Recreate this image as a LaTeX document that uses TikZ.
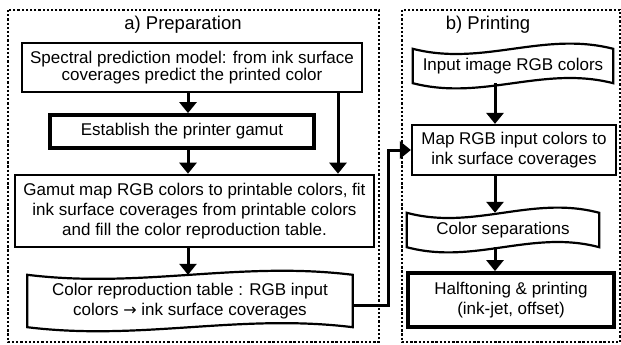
\documentclass[tikz,border=0pt]{standalone}
\usepackage{fontspec}
\setmainfont{Liberation Sans}
\newfontfamily\arrowfont{DejaVu Sans}
\usetikzlibrary{arrows.meta,calc}

% Wavy "document" outline drawn around a named node; #2 sets the wave depth
\newcommand\wavedoc[2]{%
  \draw[docline]
    (#1.north west)
      .. controls ($(#1.north west)!0.35!(#1.north east)+(0,#2)$)
              and ($(#1.north west)!0.65!(#1.north east)-(0,#2)$) .. (#1.north east)
    -- (#1.south east)
      .. controls ($(#1.south west)!0.65!(#1.south east)-(0,#2)$)
              and ($(#1.south west)!0.35!(#1.south east)+(0,#2)$) .. (#1.south west)
    -- cycle;}

\begin{document}
\begin{tikzpicture}[x=1pt,y=-1pt,
  txt/.style={font=\fontsize{17}{20}\selectfont},
  title/.style={font=\fontsize{18.5}{20}\selectfont},
  frame/.style={line width=2.3pt,dash pattern=on 2.3pt off 1.9pt},
  stepbox/.style={txt,draw,line width=2.6pt,align=center,inner sep=0pt},
  heavybox/.style={stepbox,line width=3.8pt},
  docnode/.style={txt,align=center,inner sep=0pt},
  docline/.style={line width=2.2pt,line join=miter},
  flow/.style={line width=3pt,-{Triangle[width=17pt,length=11pt]}},
]
\useasboundingbox (0,0) rectangle (621,345);

% panel frames
\draw[frame] (8,10) rectangle (379,342);
\draw[frame] (402,10) rectangle (620,342);

\node[title] (ta) at (183,25) {a) Preparation};
\node[title] (tb) at (488,25) {b) Printing};

% a) preparation
\node[stepbox,minimum width=340pt,minimum height=49pt,
      font=\fontsize{17}{17}\selectfont] (spm) at (192,67.5)
  {Spectral prediction model: from ink surface\\coverages predict the printed color};
\node[heavybox,minimum width=264pt,minimum height=33pt] (gamut) at (182,131.5)
  {Establish the printer gamut};
\node[stepbox,minimum width=359pt,minimum height=72pt] (fit) at (194.5,211)
  {Gamut map RGB colors to printable colors, fit\\ink surface coverages from printable colors\\and fill the color reproduction table.};
\node[docnode,minimum width=325pt,minimum height=52pt] (crt) at (190,301)
  {Color reproduction table : RGB input\\colors {\arrowfont\fontsize{16}{20}\selectfont →} ink surface coverages};
\wavedoc{crt}{14}

% b) printing
\node[docnode,minimum width=200pt,minimum height=34pt] (inp) at (513,66)
  {Input image RGB colors};
\wavedoc{inp}{18}
\node[stepbox,line width=2.2pt,minimum width=204pt,minimum height=50pt] (map) at (514,150)
  {Map RGB input colors to\\ink surface coverages};
\node[docnode,minimum width=192pt,minimum height=34pt] (sep) at (503,230)
  {Color separations};
\wavedoc{sep}{18}
\node[heavybox,minimum width=206pt,minimum height=54pt] (half) at (511,300)
  {Halftoning \& printing\\(ink-jet, offset)};

% connector columns
\coordinate (ax) at (188,0);
\coordinate (bx) at (338,0);
\coordinate (cx) at (495,0);
\coordinate (jx) at (388,0);

\draw[flow] (spm.south -| ax) -- (gamut.north -| ax);
\draw[flow] (gamut.south -| ax) -- (fit.north -| ax);
\draw[flow] (fit.south -| ax) -- (crt.north -| ax);
\draw[flow] (spm.south -| bx) -- (fit.north -| bx);

\draw[flow] ([yshift=-4pt]crt.east) -| (jx |- map.west) -- (map.west);

\draw[flow] (inp.south -| cx) -- (map.north -| cx);
\draw[flow] (map.south -| cx) -- (sep.north -| cx);
\draw[flow] (sep.south -| cx) -- (half.north -| cx);
\end{tikzpicture}
\end{document}
